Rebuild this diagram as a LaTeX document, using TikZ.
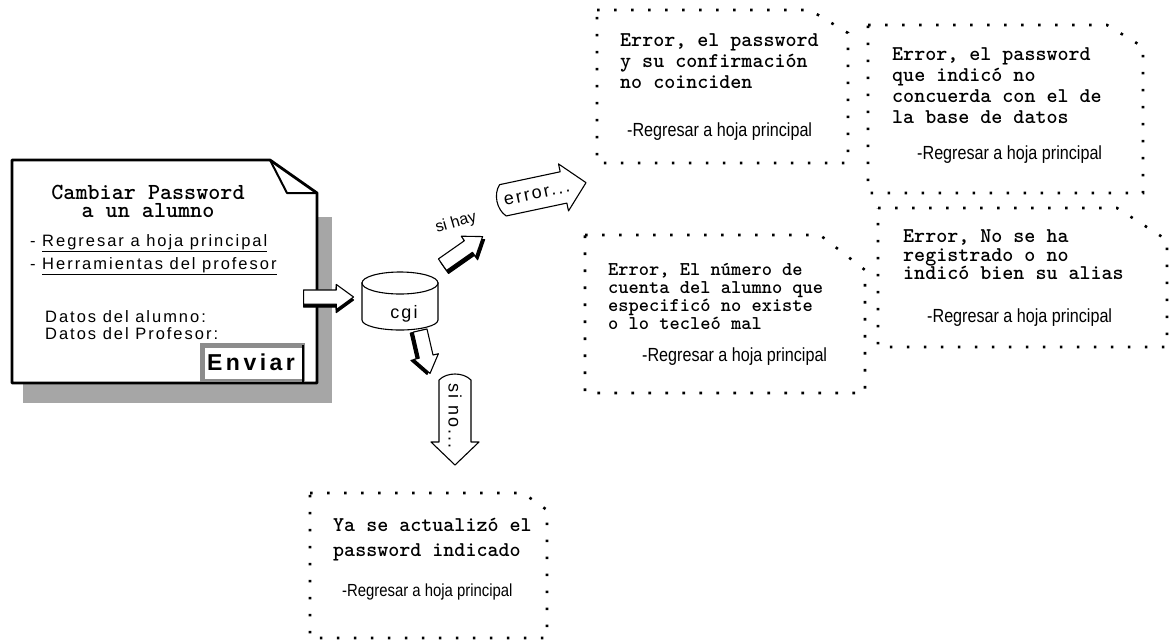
\documentclass[tikz,border=0pt]{standalone}
\usepackage{fontspec}
\setmainfont{Liberation Sans}
\newfontfamily\fnarrow[FakeStretch=0.85]{Liberation Sans}
\newfontfamily\fspaced[LetterSpace=12]{Liberation Sans}
\newfontfamily\fspacedb[LetterSpace=15]{Liberation Sans}
\usetikzlibrary{shapes.arrows}
\begin{document}
\begin{tikzpicture}[x=1pt,y=-1pt,
  dotbox/.style={line width=2.6pt, dash pattern=on 2.6pt off 14.4pt},
  msg/.style={anchor=west, align=left, inner sep=0pt, font=\ttfamily\bfseries\fontsize{21}{21}\selectfont},
  lnk/.style={anchor=west, inner sep=0pt, font=\fnarrow\fontsize{19}{19}\selectfont},
  doclnk/.style={anchor=west, inner sep=0pt, font=\fspaced\fontsize{16.5}{16.5}\selectfont},
  blockarr/.style={single arrow, draw, line width=1.1pt, inner xsep=0pt, inner ysep=6.5pt,
     single arrow head extend=5.5pt, single arrow tip angle=72, line join=round},
  callout/.style={line width=1.1pt, fill=white, line join=round},
  ctext/.style={inner sep=0pt, font=\fspaced\fontsize{18}{18}\selectfont}]
\useasboundingbox (0,0) rectangle (1175,643);
\fill[white] (0,0) rectangle (1175,643);

% ---------- left document ----------
\fill[black!35] (23,217) rectangle (332,403);
\draw[line width=2.8pt, fill=white, line join=round] (12,160) -- (270,160) -- (317,193) -- (317,383) -- (12,383) -- cycle;
\draw[line width=2pt, line join=round] (270,160) -- (287,193) -- (317,193);
\node[font=\ttfamily\bfseries\fontsize{23}{17.5}\selectfont, align=center, inner sep=0pt] (title) at (148,201.5) {Cambiar Password\\a un alumno};
\node[doclnk] (lk1) at (30,243) {- \underline{Regresar a hoja principal}};
\node[doclnk] (lk2) at (30,266) {- \underline{Herramientas del profesor}};
\node[doclnk] (d1) at (45,317) {Datos del alumno:};
\node[doclnk] (d2) at (45,334) {Datos del Profesor:};
\fill[black!45] (200,343) rectangle (305,382);
\fill[white] (205,348) rectangle (302,379);
\draw[line width=2.2pt] (303,345) -- (303,382);
\node[font=\fspacedb\bfseries\fontsize{23}{23}\selectfont, inner sep=0pt] (env) at (251,362) {Enviar};

% ---------- block arrows ----------
\node[blockarr, fill=black, minimum height=50pt, anchor=tail] (a1s) at (303,300) {};
\node[blockarr, fill=white, minimum height=50pt, anchor=tail] (a1) at (303,297) {};
\node[blockarr, fill=black, minimum height=49pt, anchor=tail, rotate=35] (a2s) at (444,268) {};
\node[blockarr, fill=white, minimum height=49pt, anchor=tail, rotate=35] (a2) at (442,265) {};
\node[blockarr, fill=black, minimum height=44pt, anchor=tail, rotate=-77] (a3s) at (417,331) {};
\node[blockarr, fill=white, minimum height=44pt, anchor=tail, rotate=-77] (a3) at (420,330) {};

% ---------- cgi ----------
\filldraw[fill=white, line width=1.1pt] (362,283) -- (362,320) arc[start angle=180, end angle=0, x radius=38, y radius=10] -- (438,283) -- cycle;
\filldraw[fill=white, line width=1.1pt] (400,283) ellipse [x radius=38, y radius=11];
\node[ctext] (cgi) at (404,314) {cgi};

% ---------- callouts ----------
\node[inner sep=0pt, font=\fontsize{16}{16}\selectfont, rotate=16] (sihay) at (456,223) {si hay};
\begin{scope}[shift={(542,192)}, rotate=12]
  \draw[callout] (22,-16) -- (-40,-16) .. controls (-48,-8) and (-48,8) .. (-40,16) -- (22,16) -- (22,24) -- (45,0) -- (22,-24) -- cycle;
\end{scope}
\node[ctext, rotate=12] (err) at (537,194) {error...};
\begin{scope}[shift={(455,420)}, rotate=-90]
  \draw[callout] (22,-16) -- (-40,-16) .. controls (-48,-8) and (-48,8) .. (-40,16) -- (22,16) -- (22,24) -- (45,0) -- (22,-24) -- cycle;
\end{scope}
\node[ctext, rotate=-90] (sino) at (455,416) {si no...};

% ---------- message boxes ----------
\draw[dotbox] (597,10) -- (810,10) -- (848,33) -- (848,163) -- (597,163) -- cycle;
\node[msg] (m1) at (620,61) {Error, el password\\y su confirmación\\no coinciden};
\node[lnk] (l1) at (627,132) {-Regresar a hoja principal};

\draw[dotbox] (868,25) -- (1107,25) -- (1143,47) -- (1143,193) -- (868,193) -- cycle;
\node[msg] (m2) at (892,86) {Error, el password\\que indicó no\\concuerda con el de\\la base de datos};
\node[lnk] (l2) at (917,155) {-Regresar a hoja principal};

\draw[dotbox] (585,235) -- (820,235) -- (865,270) -- (865,393) -- (585,393) -- cycle;
\node[msg, font=\ttfamily\bfseries\fontsize{19.5}{18}\selectfont] (m3) at (608,296) {Error, El número de\\cuenta del alumno que\\especificó no existe\\o lo tecleó mal};
\node[lnk] (l3) at (642,357) {-Regresar a hoja principal};

\draw[dotbox] (878,208) -- (1117,208) -- (1167,240) -- (1167,347) -- (878,347) -- cycle;
\node[msg, font=\ttfamily\bfseries\fontsize{21}{18.5}\selectfont] (m4) at (903,255) {Error, No se ha\\registrado o no\\indicó bien su alias};
\node[lnk] (l4) at (927,318) {-Regresar a hoja principal};

\draw[dotbox] (310,493) -- (523,493) -- (547,510) -- (547,638) -- (310,638) -- cycle;
\node[msg, font=\ttfamily\bfseries\fontsize{21}{25}\selectfont] (m5) at (333,540) {Ya se actualizó el\\password indicado};
\node[lnk, font=\fnarrow\fontsize{17.5}{17.5}\selectfont] (l5) at (342,592) {-Regresar a hoja principal};
\end{tikzpicture}
\end{document}
